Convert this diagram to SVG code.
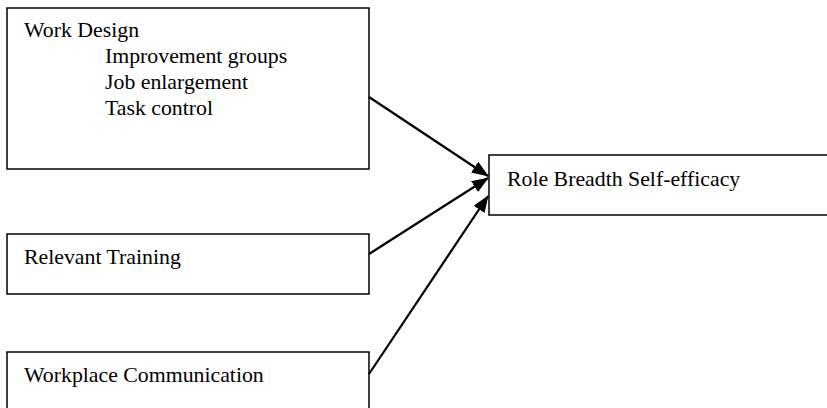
<svg xmlns="http://www.w3.org/2000/svg" width="827" height="408" viewBox="0 0 827 408">
<defs>
<style>
.box{fill:#fff;stroke:#000;stroke-width:1.5}
.t{font-family:"Liberation Serif","Times New Roman",serif;font-size:21.8px;fill:#000}
.c{stroke:#000;stroke-width:2.2;fill:none;marker-end:url(#ah)}
</style>
<marker id="ah" viewBox="0 0 17 13" refX="16" refY="6.5" markerWidth="17" markerHeight="13" markerUnits="userSpaceOnUse" orient="auto">
<path d="M0,0 L17,6.5 L0,13 Z" fill="#000"/>
</marker>
</defs>
<rect width="827" height="408" fill="#fff"/>
<g id="work-design">
<rect class="box" x="7" y="8" width="362" height="161"/>
<text class="t" x="24" y="37">Work Design</text>
<text class="t" x="105" y="63">Improvement groups</text>
<text class="t" x="105" y="89">Job enlargement</text>
<text class="t" x="105" y="115">Task control</text>
</g>
<g id="relevant-training">
<rect class="box" x="7" y="234" width="362" height="60"/>
<text class="t" x="24" y="264">Relevant Training</text>
</g>
<g id="workplace-communication">
<rect class="box" x="7" y="352" width="362" height="70"/>
<text class="t" x="24" y="382">Workplace Communication</text>
</g>
<g id="role-breadth">
<rect class="box" x="489" y="155" width="350" height="60"/>
<text class="t" x="507" y="186">Role Breadth Self-efficacy</text>
</g>
<g id="connectors">
<path class="c" d="M369,97 L488,176"/>
<path class="c" d="M369,254 L488,178"/>
<path class="c" d="M369,374 L488,196"/>
</g>
</svg>
